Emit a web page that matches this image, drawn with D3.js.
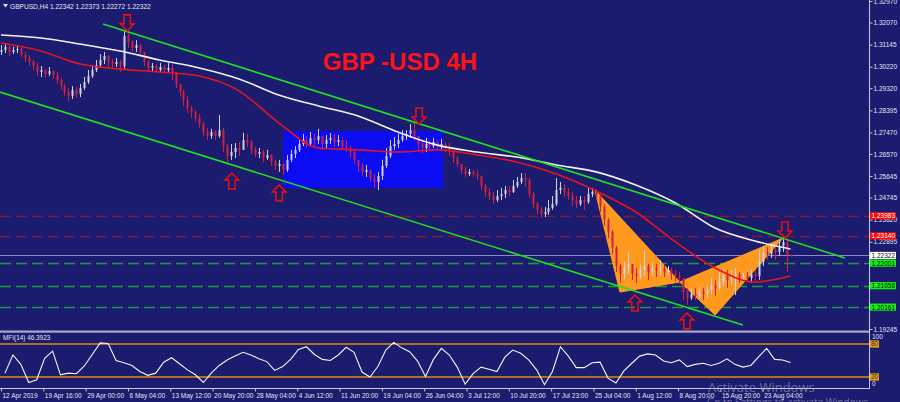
<!DOCTYPE html>
<html><head><meta charset="utf-8">
<script src="https://cdn.jsdelivr.net/npm/d3@7"></script>
<style>html,body{margin:0;padding:0;background:#1b1b6f;overflow:hidden}svg{display:block}</style>
</head><body>
<svg id="c" width="900" height="402"></svg>
<script>
// ---------- DATA ----------
const symbolTitle = "GBPUSD,H4";
const headerQuote = [1.22342, 1.22373, 1.22272, 1.22322]; // open, high, low, close of last bar
const chartTitle = "GBP -USD 4H";
const firstOpen = 1.3084;
const closes = [
1.3092,1.3105,1.3084,1.3092,1.3096,1.3071,1.3059,1.3042,1.3025,1.3000,
1.3008,1.2992,1.3004,1.2987,1.2966,1.2941,1.2916,1.2900,1.2925,1.2908,
1.2933,1.2958,1.2983,1.3008,1.3029,1.3050,1.3067,1.3042,1.3033,1.3042,
1.3025,1.3151,1.3125,1.3100,1.3113,1.3084,1.3042,1.3017,1.3025,1.3008,
1.3021,1.3008,1.3017,1.3000,1.2950,1.2916,1.2883,1.2849,1.2833,1.2808,
1.2782,1.2749,1.2732,1.2749,1.2732,1.2757,1.2690,1.2649,1.2665,1.2682,
1.2674,1.2715,1.2707,1.2674,1.2657,1.2665,1.2640,1.2653,1.2623,1.2607,
1.2615,1.2590,1.2632,1.2657,1.2674,1.2699,1.2715,1.2699,1.2724,1.2715,
1.2732,1.2699,1.2715,1.2724,1.2707,1.2715,1.2690,1.2682,1.2665,1.2632,
1.2607,1.2582,1.2590,1.2556,1.2540,1.2565,1.2607,1.2649,1.2690,1.2699,
1.2715,1.2732,1.2741,1.2757,1.2732,1.2699,1.2682,1.2699,1.2690,1.2707,
1.2690,1.2699,1.2682,1.2665,1.2640,1.2615,1.2590,1.2573,1.2582,1.2573,
1.2565,1.2523,1.2498,1.2481,1.2464,1.2481,1.2489,1.2506,1.2498,1.2523,
1.2540,1.2556,1.2548,1.2489,1.2448,1.2423,1.2406,1.2414,1.2431,1.2448,
1.2506,1.2515,1.2498,1.2481,1.2464,1.2448,1.2464,1.2456,1.2489,1.2498,
1.2481,1.2439,1.2381,1.2331,1.2264,1.2188,1.2155,1.2180,1.2197,1.2155,
1.2146,1.2172,1.2188,1.2163,1.2180,1.2172,1.2180,1.2163,1.2172,1.2155,
1.2146,1.2138,1.2079,1.2054,1.2071,1.2063,1.2079,1.2071,1.2088,1.2105,
1.2096,1.2121,1.2146,1.2130,1.2146,1.2155,1.2138,1.2146,1.2138,1.2155,
1.2146,1.2205,1.2247,1.2238,1.2255,1.2247,1.2272,1.2289,1.22342,1.22322];
const highs = [
1.3113,1.3117,1.3109,1.3105,1.3109,1.3100,1.3084,1.3071,1.3050,1.3038,
1.3025,1.3012,1.3021,1.3008,1.3000,1.2975,1.2950,1.2933,1.2941,1.2937,
1.2950,1.2979,1.3008,1.3029,1.3050,1.3075,1.3084,1.3071,1.3054,1.3059,
1.3050,1.3176,1.3167,1.3134,1.3134,1.3117,1.3075,1.3050,1.3038,1.3033,
1.3038,1.3029,1.3038,1.3033,1.3000,1.2950,1.2925,1.2900,1.2858,1.2841,
1.2824,1.2791,1.2766,1.2762,1.2757,1.2820,1.2766,1.2699,1.2699,1.2703,
1.2707,1.2745,1.2741,1.2715,1.2686,1.2682,1.2674,1.2674,1.2657,1.2632,
1.2632,1.2619,1.2653,1.2674,1.2690,1.2715,1.2741,1.2732,1.2749,1.2741,
1.2762,1.2732,1.2736,1.2745,1.2741,1.2736,1.2728,1.2715,1.2694,1.2674,
1.2632,1.2619,1.2611,1.2590,1.2573,1.2582,1.2632,1.2682,1.2715,1.2728,
1.2741,1.2757,1.2757,1.2782,1.2787,1.2732,1.2715,1.2724,1.2715,1.2724,
1.2715,1.2720,1.2707,1.2703,1.2674,1.2649,1.2615,1.2602,1.2594,1.2590,
1.2590,1.2565,1.2531,1.2515,1.2498,1.2506,1.2515,1.2523,1.2523,1.2548,
1.2561,1.2577,1.2577,1.2556,1.2498,1.2456,1.2435,1.2435,1.2464,1.2481,
1.2556,1.2540,1.2531,1.2515,1.2498,1.2481,1.2481,1.2481,1.2515,1.2515,
1.2510,1.2489,1.2448,1.2389,1.2339,1.2272,1.2197,1.2205,1.2247,1.2197,
1.2180,1.2193,1.2255,1.2197,1.2205,1.2197,1.2213,1.2193,1.2188,1.2180,
1.2172,1.2163,1.2138,1.2096,1.2096,1.2096,1.2100,1.2096,1.2109,1.2138,
1.2130,1.2163,1.2180,1.2172,1.2172,1.2180,1.2163,1.2159,1.2163,1.2172,
1.2172,1.2255,1.2272,1.2268,1.2280,1.2276,1.2297,1.2314,1.2297,1.22373];
const lows = [
1.3071,1.3079,1.3067,1.3075,1.3079,1.3063,1.3042,1.3025,1.3008,1.2983,
1.2979,1.2975,1.2983,1.2971,1.2950,1.2925,1.2900,1.2879,1.2887,1.2891,
1.2895,1.2925,1.2950,1.2975,1.3000,1.3017,1.3033,1.3017,1.3017,1.3021,
1.3000,1.3008,1.3100,1.3084,1.3084,1.3067,1.3025,1.3000,1.3004,1.2996,
1.3000,1.2996,1.3000,1.2966,1.2933,1.2900,1.2858,1.2829,1.2808,1.2791,
1.2766,1.2732,1.2715,1.2720,1.2715,1.2724,1.2665,1.2623,1.2632,1.2640,
1.2649,1.2674,1.2686,1.2657,1.2644,1.2640,1.2623,1.2632,1.2607,1.2590,
1.2582,1.2569,1.2582,1.2623,1.2640,1.2665,1.2690,1.2682,1.2690,1.2686,
1.2699,1.2674,1.2682,1.2699,1.2686,1.2690,1.2674,1.2665,1.2640,1.2615,
1.2582,1.2565,1.2561,1.2540,1.2515,1.2506,1.2548,1.2598,1.2640,1.2674,
1.2682,1.2707,1.2715,1.2724,1.2715,1.2674,1.2661,1.2665,1.2674,1.2682,
1.2674,1.2674,1.2665,1.2649,1.2619,1.2602,1.2573,1.2561,1.2565,1.2561,
1.2548,1.2506,1.2477,1.2464,1.2448,1.2456,1.2464,1.2473,1.2481,1.2494,
1.2515,1.2531,1.2519,1.2473,1.2431,1.2406,1.2389,1.2393,1.2402,1.2423,
1.2439,1.2489,1.2477,1.2464,1.2439,1.2431,1.2439,1.2423,1.2448,1.2477,
1.2464,1.2414,1.2356,1.2305,1.2238,1.2163,1.2117,1.2130,1.2155,1.2130,
1.2117,1.2134,1.2146,1.2130,1.2146,1.2142,1.2146,1.2142,1.2146,1.2130,
1.2125,1.2113,1.2046,1.2025,1.2046,1.2046,1.2054,1.2046,1.2054,1.2071,
1.2063,1.2088,1.2105,1.2096,1.2113,1.2067,1.2117,1.2125,1.2121,1.2117,
1.2121,1.2130,1.2188,1.2213,1.2222,1.2213,1.2230,1.2247,1.2163,1.22272];
// moving averages sampled every 10 candles (last sample = last candle)
const maSampleStep = 10;
const maSlow = [1.3155,1.3142,1.3117,1.3088,1.3050,1.3017,1.2971,1.2904,1.2858,1.2816,1.2749,1.2694,1.2665,1.2644,1.2611,1.2582,1.2527,1.2452,1.2347,1.2293,1.2259];
const maFast = [1.3121,1.3088,1.3033,1.3012,1.3000,1.2983,1.2921,1.2787,1.2682,1.2674,1.2665,1.2674,1.2653,1.2623,1.2573,1.2502,1.2414,1.2289,1.2180,1.2121,1.2146];
// MFI(14), one value per two candles (candles 1,3,5,...,199)
const mfi = [
27,60,43,10,15,54,67,24,27,26,
40,61,82,81,50,46,41,30,23,27,
47,55,44,33,24,10,27,41,51,58,
65,60,53,48,32,39,52,70,75,61,
52,50,60,74,65,29,20,39,69,83,
73,66,49,21,52,72,60,38,7,26,
38,34,30,56,69,63,51,33,6,30,
75,58,37,37,46,47,18,9,31,45,
58,62,60,49,46,51,39,43,45,41,
45,53,43,38,41,57,72,52,51,46.3923];
const mfiLevels = [80, 20];
const priceTicks = [1.32970,1.32070,1.31145,1.30220,1.29320,1.28395,1.27470,1.26570,1.25645,1.24745,1.23820,1.22895,1.19245];
const dateLabels = ["12 Apr 2019","19 Apr 16:00","29 Apr 00:00","6 May 04:00","13 May 12:00","20 May 20:00","28 May 04:00","4 Jun 12:00","11 Jun 20:00","19 Jun 04:00","26 Jun 04:00","3 Jul 12:00","10 Jul 20:00","17 Jul 23:00","25 Jul 04:00","1 Aug 12:00","8 Aug 20:00","15 Aug 20:00","23 Aug 04:00"];
const barsPerCandle = 3, barsPerDateLabel = 32;
const resistanceLevels = [1.23983, 1.23140];
const supportLevels = [1.22001, 1.21058, 1.20161];
const bidLevel = 1.22322;
// annotations: [candle index, price]
const channelUpper = [[25.7, 1.3201], [212.7, 1.2222]];
const channelLower = [[-0.25, 1.2916], [187.0, 1.1941]];
const rangeBox = [[71.1, 1.2753], [111.4, 1.2515]];
const patternXAB = [[149.7, 1.2506], [156.0, 1.2079], [171.1, 1.2121]];
const patternBCD = [[171.1, 1.2121], [180.0, 1.1983], [197.1, 1.2305]];
const arrowIdx = [31.8, 58.2, 70.1, 105.4, 159.8, 172.9, 197.6];
const arrowPrice = [1.3172, 1.2577, 1.2527, 1.2782, 1.2067, 1.1992, 1.2305];
const arrowDir = ["down","up","up","down","up","up","down"];

// ---------- CHART ----------
const svg = d3.select("#c");
const FONT = "'Liberation Sans', Arial, sans-serif";
const BG = "#1b1b6f";
const axisX = 869, mainBottom = 331, mfiTop = 333, mfiBottom = 388;
const x = d3.scaleLinear().domain([0, 199]).range([1, 790.5]);
const y = d3.scaleLinear().domain([1.32970, 1.19245]).range([1, 329]);
const ym = d3.scaleLinear().domain([0, 100]).range([mfiBottom, mfiTop]);

svg.append("rect").attr("width", 900).attr("height", 402).attr("fill", BG);
const defs = svg.append("defs");
defs.append("clipPath").attr("id", "mainClip").append("rect").attr("x", 0).attr("y", 0).attr("width", axisX).attr("height", mainBottom);
defs.append("clipPath").attr("id", "mfiClip").append("rect").attr("x", 0).attr("y", mfiTop).attr("width", axisX).attr("height", mfiBottom - mfiTop);

const main = svg.append("g").attr("clip-path", "url(#mainClip)");

// horizontal levels
main.selectAll(".res").data(resistanceLevels).join("line")
  .attr("x1", 0).attr("x2", axisX).attr("y1", d => Math.round(y(d)) + 0.5).attr("y2", d => Math.round(y(d)) + 0.5)
  .attr("stroke", "#7c1838").attr("stroke-width", 1.3).attr("stroke-dasharray", "11,5");
main.append("line").attr("x1", 0).attr("x2", axisX).attr("y1", Math.round(y(bidLevel)) + 0.5).attr("y2", Math.round(y(bidLevel)) + 0.5)
  .attr("stroke", "#8a8ac4").attr("stroke-width", 1);
main.selectAll(".sup").data(supportLevels).join("line")
  .attr("x1", 0).attr("x2", axisX).attr("y1", d => Math.round(y(d)) + 0.5).attr("y2", d => Math.round(y(d)) + 0.5)
  .attr("stroke", "#1c9c3a").attr("stroke-width", 1.3).attr("stroke-dasharray", "11,5");

// range box
main.append("rect")
  .attr("x", x(rangeBox[0][0])).attr("y", y(rangeBox[0][1]))
  .attr("width", x(rangeBox[1][0]) - x(rangeBox[0][0])).attr("height", y(rangeBox[1][1]) - y(rangeBox[0][1]))
  .attr("fill", "#0c0cf2");

// harmonic pattern
const poly = d3.line().x(d => x(d[0])).y(d => y(d[1]));
[patternXAB, patternBCD].forEach(p => {
  main.append("path").attr("d", poly(p) + "Z").attr("fill", "#ff9a1e").attr("stroke", "#ff9a1e").attr("stroke-width", 1);
});

// candles
const candles = closes.map((c, i) => ({
  i, c, h: highs[i], l: lows[i],
  o: i === closes.length - 1 ? headerQuote[0] : (i === 0 ? firstOpen : closes[i - 1])
}));
const cg = main.append("g");
candles.forEach(d => {
  const up = d.c >= d.o;
  const col = up ? "#cfcfea" : "#d0223c";
  const cx = Math.round(x(d.i)) + 0.5;
  const top = Math.max(d.h, d.o, d.c), bot = Math.min(d.l, d.o, d.c);
  cg.append("line").attr("x1", cx).attr("x2", cx).attr("y1", y(top)).attr("y2", y(bot)).attr("stroke", col).attr("stroke-width", 1);
  const b1 = y(Math.max(d.o, d.c)), b2 = y(Math.min(d.o, d.c));
  cg.append("rect").attr("x", cx - 1).attr("y", b1).attr("width", 2).attr("height", Math.max(1, b2 - b1)).attr("fill", col);
});

// moving averages
const maLine = d3.line()
  .x((d, k) => x(Math.min(k * maSampleStep, closes.length - 1)))
  .y(d => y(d)).curve(d3.curveMonotoneX);
main.append("path").attr("d", maLine(maFast)).attr("fill", "none").attr("stroke", "#e8141c").attr("stroke-width", 1.6);
main.append("path").attr("d", maLine(maSlow)).attr("fill", "none").attr("stroke", "#f2f2f6").attr("stroke-width", 1.6);

// channel
[channelUpper, channelLower].forEach(ch => {
  main.append("line").attr("x1", x(ch[0][0])).attr("y1", y(ch[0][1])).attr("x2", x(ch[1][0])).attr("y2", y(ch[1][1]))
    .attr("stroke", "#1ee21e").attr("stroke-width", 1.6);
});

// arrows
arrowIdx.forEach((ai, k) => {
  const cx = x(ai), ty = y(arrowPrice[k]);
  const s = arrowDir[k] === "down" ? -1 : 1;
  const hw = 6.8, sw = 3.2, hh = 7, tot = 16;
  const pts = [[cx, ty], [cx + hw, ty + s * hh], [cx + sw, ty + s * hh], [cx + sw, ty + s * tot], [cx - sw, ty + s * tot], [cx - sw, ty + s * hh], [cx - hw, ty + s * hh]];
  main.append("path").attr("d", "M" + pts.map(p => p.join(",")).join("L") + "Z")
    .attr("fill", "none").attr("stroke", "#e5100f").attr("stroke-width", 1.6).attr("stroke-linejoin", "miter");
});

// title
main.append("text").attr("x", 401).attr("y", 71).attr("text-anchor", "middle")
  .attr("font-family", FONT).attr("font-weight", "bold").attr("font-size", 24).attr("fill", "#5a0a20").attr("opacity", 0.6).text(chartTitle);
main.append("text").attr("x", 400).attr("y", 70).attr("text-anchor", "middle")
  .attr("font-family", FONT).attr("font-weight", "bold").attr("font-size", 24).attr("fill", "#f8161e").text(chartTitle);

// header
svg.append("path").attr("d", "M3,4L8,4L5.5,7.5Z").attr("fill", "#e8e8f0");
svg.append("text").attr("x", 10).attr("y", 8.5).attr("font-family", FONT).attr("font-size", 6.6).attr("fill", "#e8e8f0")
  .text(symbolTitle + "  " + headerQuote.map(v => v.toFixed(5)).join(" "));

// panel borders
svg.append("rect").attr("x", 0).attr("y", mainBottom - 0.5).attr("width", axisX).attr("height", 2.2).attr("fill", "#a9a9c6");
svg.append("line").attr("x1", 0).attr("x2", axisX + 0.5).attr("y1", mfiBottom + 0.5).attr("y2", mfiBottom + 0.5).attr("stroke", "#c9c9dc").attr("stroke-width", 1);
svg.append("line").attr("x1", axisX + 0.5).attr("x2", axisX + 0.5).attr("y1", 0).attr("y2", mfiBottom + 1).attr("stroke", "#c9c9dc").attr("stroke-width", 1);

// price axis
const pAxis = d3.axisRight(y).tickValues(priceTicks).tickFormat(d3.format(".5f")).tickSize(3).tickSizeOuter(0).tickPadding(1);
const pa = svg.append("g").attr("transform", `translate(${axisX + 0.5},0)`).call(pAxis);
pa.select(".domain").remove();
pa.selectAll("line").attr("stroke", "#c9c9dc");
pa.selectAll("text").attr("font-family", FONT).attr("font-size", 6.5).attr("fill", "#e4e4ee");

// level labels on axis
function levelLabel(val, bg, fg) {
  const cy = y(val);
  svg.append("rect").attr("x", 870).attr("y", cy - 3.6).attr("width", 26).attr("height", 7.2).attr("fill", bg);
  svg.append("text").attr("x", 871.5).attr("y", cy + 2.4).attr("font-family", FONT).attr("font-size", 6.5).attr("fill", fg).text(val.toFixed(5));
}
resistanceLevels.forEach(v => levelLabel(v, "#ff0a0a", "#ffffff"));
levelLabel(bidLevel, "#ffffff", "#111111");
supportLevels.forEach(v => levelLabel(v, "#12f012", "#0a0a0a"));

// MFI panel
const mg = svg.append("g").attr("clip-path", "url(#mfiClip)");
mg.selectAll(".lvl").data(mfiLevels).join("line")
  .attr("x1", 0).attr("x2", axisX).attr("y1", d => ym(d)).attr("y2", d => ym(d))
  .attr("stroke", "#e08c0c").attr("stroke-width", 1.6);
const mfiLine = d3.line().x((d, k) => x(2 * k + 1)).y(d => ym(d));
mg.append("path").attr("d", mfiLine(mfi)).attr("fill", "none").attr("stroke", "#f4f4f8").attr("stroke-width", 1.1);
svg.append("text").attr("x", 3).attr("y", 340).attr("font-family", FONT).attr("font-size", 6.4).attr("fill", "#e4e4ee")
  .text("MFI(14) " + mfi[mfi.length - 1].toFixed(4));
// MFI scale
svg.append("text").attr("x", 872).attr("y", ym(100) + 5.5).attr("font-family", FONT).attr("font-size", 6.5).attr("fill", "#e4e4ee").text("100");
svg.append("text").attr("x", 872).attr("y", ym(0) - 2.5).attr("font-family", FONT).attr("font-size", 6.5).attr("fill", "#e4e4ee").text("0");
mfiLevels.forEach(v => {
  svg.append("rect").attr("x", 870).attr("y", ym(v) - 3.6).attr("width", 9).attr("height", 7.2).attr("fill", "#e8a020");
  svg.append("text").attr("x", 871).attr("y", ym(v) + 2.4).attr("font-family", FONT).attr("font-size", 6.5).attr("fill", "#3a2a00").text(v);
});

// date axis
const dateIdx = dateLabels.map((_, k) => k * barsPerDateLabel / barsPerCandle);
const dAxis = d3.axisBottom(x).tickValues(dateIdx).tickFormat((d, k) => dateLabels[k]).tickSize(3).tickSizeOuter(0).tickPadding(2);
const da = svg.append("g").attr("transform", `translate(0,${mfiBottom + 0.5})`).call(dAxis);
da.select(".domain").remove();
da.selectAll("line").attr("stroke", "#c9c9dc");
da.selectAll("text").attr("text-anchor", "start").attr("dx", 1).attr("font-family", FONT).attr("font-size", 6.5).attr("fill", "#e4e4ee");

// watermark
svg.append("text").attr("x", 708).attr("y", 392).attr("font-family", "'Open Sans','Noto Sans',sans-serif").attr("font-size", 13)
  .attr("fill", "#b4b4cc").attr("opacity", 0.55).text("Activate Windows");
svg.append("text").attr("x", 707).attr("y", 406).attr("font-family", "'Open Sans','Noto Sans',sans-serif").attr("font-size", 10)
  .attr("fill", "#b4b4cc").attr("opacity", 0.55).text("Go to Settings to activate Windows.");
</script>
</body></html>
